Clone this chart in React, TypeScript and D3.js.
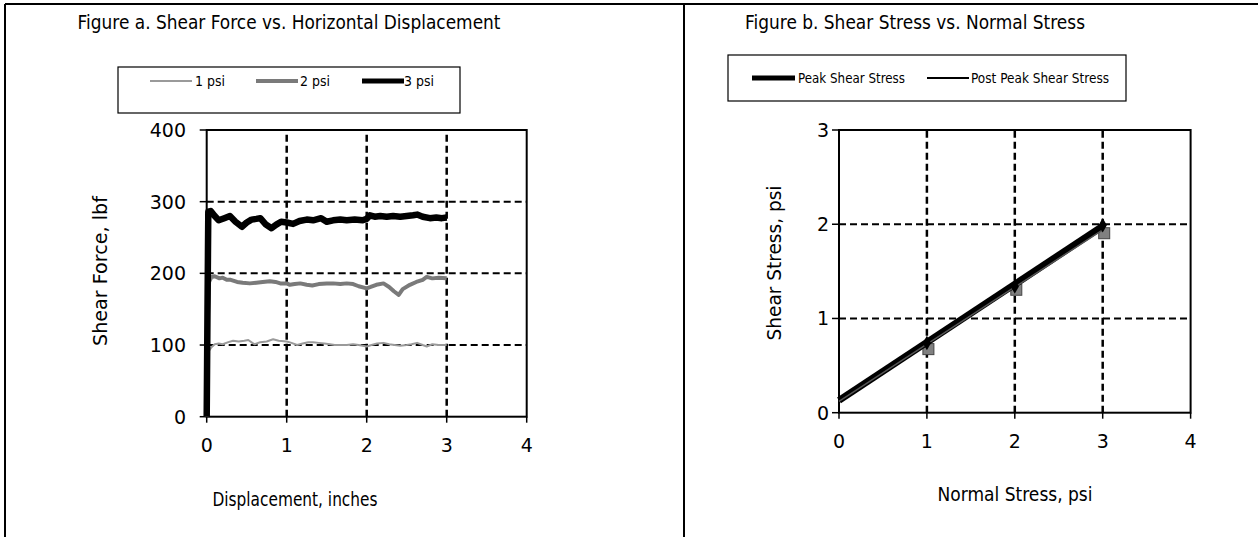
import React from 'react';
import * as d3 from 'd3';

// Figure a: shear force (lbf) vs displacement (in)
const psi1: [number, number][] = [[0,0],[0.01,60],[0.03,92],[0.06,97],[0.1,101],[0.15,102],[0.2,101],[0.27,104],[0.33,106],[0.4,105],[0.47,106],[0.52,107],[0.57,103],[0.6,101],[0.67,104],[0.75,105],[0.83,108],[0.9,106],[1.0,105],[1.06,103],[1.13,100],[1.2,102],[1.27,104],[1.33,104],[1.4,103],[1.47,102],[1.54,101],[1.6,100],[1.68,100],[1.75,100],[1.83,101],[1.9,100],[2.0,98],[2.06,100],[2.13,102],[2.21,103],[2.28,101],[2.35,100],[2.42,99],[2.5,100],[2.56,101],[2.63,103],[2.7,100],[2.75,98],[2.82,101],[2.9,100],[3.0,100]];
const psi2: [number, number][] = [[0,0],[0.01,120],[0.03,188],[0.06,195],[0.1,196],[0.16,193],[0.2,194],[0.25,191],[0.3,191],[0.38,188],[0.45,187],[0.54,186],[0.62,187],[0.7,188],[0.79,189],[0.86,188],[0.92,186],[1.0,186],[1.04,184],[1.1,185],[1.17,186],[1.25,184],[1.32,183],[1.4,185],[1.5,186],[1.58,186],[1.67,185],[1.75,186],[1.83,185],[1.9,182],[2.0,179],[2.05,181],[2.12,184],[2.21,186],[2.28,181],[2.34,175],[2.4,170],[2.45,178],[2.54,184],[2.62,188],[2.7,191],[2.75,195],[2.82,193],[2.9,194],[3.0,193]];
const psi3: [number, number][] = [[0,0],[0.01,150],[0.02,286],[0.05,287],[0.1,280],[0.15,274],[0.22,277],[0.29,280],[0.36,272],[0.44,265],[0.5,271],[0.56,275],[0.62,276],[0.67,277],[0.74,268],[0.81,263],[0.87,268],[0.93,272],[1.0,271],[1.08,269],[1.16,273],[1.25,275],[1.33,274],[1.43,277],[1.5,272],[1.58,274],[1.67,275],[1.75,274],[1.85,275],[1.95,274],[2.0,276],[2.04,281],[2.1,279],[2.17,280],[2.25,279],[2.33,280],[2.42,279],[2.5,280],[2.58,281],[2.63,282],[2.7,279],[2.79,277],[2.87,278],[2.94,277],[3.0,278]];
const forceTicks = [0, 100, 200, 300, 400];
const dispTicks = [0, 1, 2, 3, 4];

// Figure b: shear stress vs normal stress (psi)
const normalStress = [1, 2, 3];
const peakStress = [0.74, 1.34, 1.99];
const postPeakStress = [0.68, 1.31, 1.91];
const peakFit: [number, number][] = [[0, 0.13], [3, 1.98]];
const postFit: [number, number][] = [[0, 0.12], [3, 1.94]];
const stressTicksY = [0, 1, 2, 3];
const stressTicksX = [0, 1, 2, 3, 4];

const FONT = 'DejaVu Sans, Verdana, sans-serif';
const DASH = '7,4';

export default function App() {
  // left plot scales
  const xa = d3.scaleLinear().domain([0, 4]).range([206.7, 526.7]);
  const ya = d3.scaleLinear().domain([0, 400]).range([416.7, 130]);
  // right plot scales
  const xb = d3.scaleLinear().domain([0, 4]).range([839, 1190.6]);
  const yb = d3.scaleLinear().domain([0, 3]).range([412.7, 130]);

  const lineA = d3.line<[number, number]>().x(d => xa(d[0])).y(d => ya(d[1]));
  const lineB = d3.line<[number, number]>().x(d => xb(d[0])).y(d => yb(d[1]));

  const series = [
    { name: '1 psi', data: psi1, color: '#9a9a9a', w: 2, lx: 150, tx: 195 },
    { name: '2 psi', data: psi2, color: '#7a7a7a', w: 4, lx: 256, tx: 300 },
    { name: '3 psi', data: psi3, color: '#000', w: 6.5, lx: 362, tx: 404 },
  ];

  return (
    <div style={{ position: 'absolute', left: 0, top: 0 }}>
      <svg width={1258} height={537} style={{ display: 'block', background: '#fff' }} fontFamily={FONT}>
        {/* outer frame */}
        <line x1={5} y1={4} x2={1258} y2={4} stroke="#000" strokeWidth={2} />
        <line x1={5} y1={4} x2={5} y2={537} stroke="#000" strokeWidth={2} />
        <line x1={684} y1={4} x2={684} y2={537} stroke="#000" strokeWidth={2} />

        {/* ---------- Figure a ---------- */}
        <text x={289} y={29} textAnchor="middle" fontSize={20} textLength={423} lengthAdjust="spacingAndGlyphs">
          Figure a. Shear Force vs. Horizontal Displacement
        </text>
        <rect x={118} y={67} width={342} height={46} fill="#fff" stroke="#000" strokeWidth={1.2} />
        {series.map(s => (
          <g key={s.name}>
            <line x1={s.lx} x2={s.lx + 42} y1={81} y2={81} stroke={s.color} strokeWidth={Math.min(s.w, 5)} />
            <text x={s.tx} y={86} fontSize={14} textLength={30} lengthAdjust="spacingAndGlyphs">{s.name}</text>
          </g>
        ))}

        {/* grid */}
        {forceTicks.slice(1, -1).map(t => (
          <line key={'ga' + t} x1={xa(0)} x2={xa(4)} y1={ya(t)} y2={ya(t)} stroke="#000" strokeWidth={2} strokeDasharray={DASH} />
        ))}
        {dispTicks.slice(1, -1).map(t => (
          <line key={'gv' + t} x1={xa(t)} x2={xa(t)} y1={ya(0)} y2={ya(400)} stroke="#000" strokeWidth={2.5} strokeDasharray={DASH} />
        ))}
        <rect x={xa(0)} y={ya(400)} width={xa(4) - xa(0)} height={ya(0) - ya(400)} fill="none" stroke="#000" strokeWidth={2} />
        {forceTicks.map(t => (
          <g key={'ta' + t}>
            <line x1={xa(0) - 7} x2={xa(0)} y1={ya(t)} y2={ya(t)} stroke="#000" strokeWidth={1.5} />
            <text x={186} y={ya(t) + 7} textAnchor="end" fontSize={19}>{t}</text>
          </g>
        ))}
        {dispTicks.map(t => (
          <g key={'tx' + t}>
            <line x1={xa(t)} x2={xa(t)} y1={ya(0)} y2={ya(0) + 6} stroke="#000" strokeWidth={1.5} />
            <text x={xa(t)} y={452} textAnchor="middle" fontSize={19}>{t}</text>
          </g>
        ))}
        {series.map(s => (
          <path key={'p' + s.name} d={lineA(s.data) || ''} fill="none" stroke={s.color} strokeWidth={s.w} strokeLinejoin="round" />
        ))}
        <text x={295} y={506} textAnchor="middle" fontSize={19} textLength={165} lengthAdjust="spacingAndGlyphs">Displacement, inches</text>
        <text transform="translate(107,271) rotate(-90)" textAnchor="middle" fontSize={19} textLength={150} lengthAdjust="spacingAndGlyphs">Shear Force, lbf</text>

        {/* ---------- Figure b ---------- */}
        <text x={915} y={29} textAnchor="middle" fontSize={20} textLength={340} lengthAdjust="spacingAndGlyphs">
          Figure b. Shear Stress vs. Normal Stress
        </text>
        <rect x={728} y={55} width={398} height={46} fill="#fff" stroke="#000" strokeWidth={1.2} />
        <line x1={752} x2={795} y1={78} y2={78} stroke="#000" strokeWidth={5} />
        <text x={798} y={83} fontSize={14} textLength={107} lengthAdjust="spacingAndGlyphs">Peak Shear Stress</text>
        <line x1={927} x2={969} y1={78} y2={78} stroke="#000" strokeWidth={2} />
        <text x={971} y={83} fontSize={14} textLength={138} lengthAdjust="spacingAndGlyphs">Post Peak Shear Stress</text>

        {stressTicksY.slice(1, -1).map(t => (
          <line key={'gb' + t} x1={xb(0)} x2={xb(4)} y1={yb(t)} y2={yb(t)} stroke="#000" strokeWidth={2} strokeDasharray={DASH} />
        ))}
        {stressTicksX.slice(1, -1).map(t => (
          <line key={'gbv' + t} x1={xb(t)} x2={xb(t)} y1={yb(0)} y2={yb(3)} stroke="#000" strokeWidth={2.5} strokeDasharray={DASH} />
        ))}
        <rect x={xb(0)} y={yb(3)} width={xb(4) - xb(0)} height={yb(0) - yb(3)} fill="none" stroke="#000" strokeWidth={2} />
        {stressTicksY.map(t => (
          <g key={'tby' + t}>
            <line x1={xb(0) - 7} x2={xb(0)} y1={yb(t)} y2={yb(t)} stroke="#000" strokeWidth={1.5} />
            <text x={829} y={yb(t) + 7} textAnchor="end" fontSize={19}>{t}</text>
          </g>
        ))}
        {stressTicksX.map(t => (
          <g key={'tbx' + t}>
            <line x1={xb(t)} x2={xb(t)} y1={yb(0)} y2={yb(0) + 6} stroke="#000" strokeWidth={1.5} />
            <text x={xb(t)} y={448} textAnchor="middle" fontSize={19}>{t}</text>
          </g>
        ))}
        {normalStress.map((n, i) => (
          <rect key={'pp' + n} x={xb(n) - 4} y={yb(postPeakStress[i]) - 5} width={11} height={11} fill="#808080" stroke="#444" strokeWidth={1} />
        ))}
        <path d={lineB(peakFit) || ''} fill="none" stroke="#000" strokeWidth={7} />
        <path d={lineB(postFit) || ''} fill="none" stroke="#555" strokeWidth={1.5} />
        {normalStress.map((n, i) => (
          <path key={'pk' + n} d={d3.symbol(d3.symbolDiamond, 60)() || ''} transform={`translate(${xb(n)},${yb(peakStress[i])})`} fill="#000" />
        ))}
        <text x={1015} y={501} textAnchor="middle" fontSize={19} textLength={155} lengthAdjust="spacingAndGlyphs">Normal Stress, psi</text>
        <text transform="translate(781,263) rotate(-90)" textAnchor="middle" fontSize={19} textLength={155} lengthAdjust="spacingAndGlyphs">Shear Stress, psi</text>
      </svg>
    </div>
  );
}
